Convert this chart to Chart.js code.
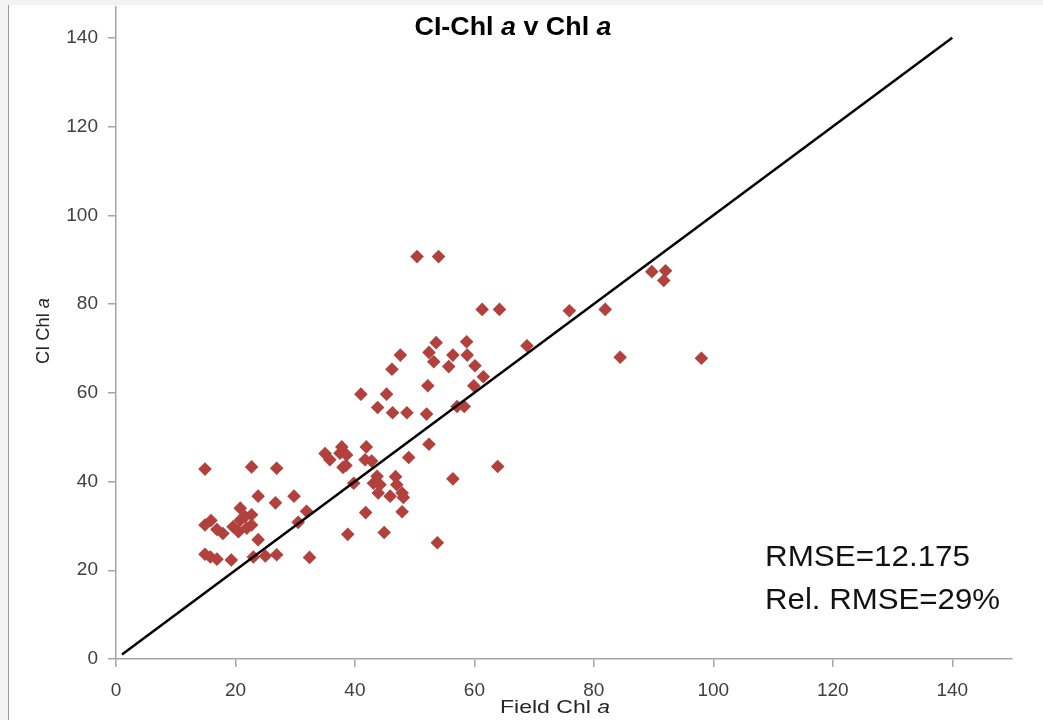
<!DOCTYPE html>
<html>
<head>
<meta charset="utf-8">
<script src="https://cdn.jsdelivr.net/npm/chart.js@4/dist/chart.umd.min.js"></script>
<style>
  html, body { margin: 0; padding: 0; background: #f3f3f3; }
  #frame { position: absolute; left: 8px; top: 5px; width: 1035px; height: 715px;
           background: #ffffff; border-left: 1px solid #9a9a9a; box-sizing: border-box; }
  #wrap { position: absolute; left: 0; top: 0; width: 1043px; height: 720px; }
</style>
</head>
<body>
<div id="frame"></div>
<div id="wrap"><canvas id="c" width="1043" height="720"></canvas></div>
<script>
// Field-measured chlorophyll a (x) against CI-derived chlorophyll a (y)
const fieldChl = [
  14.9, 14.9, 15.9, 16.9, 17.9, 14.9, 15.8, 16.9, 19.3, 19.6,
  20.8, 21.6, 22.7, 20.5, 21.9, 22.7, 20.8, 22.7, 23.8, 23.8,
  23.0, 25.0, 26.9, 26.7, 26.9, 29.8, 30.5, 31.9, 32.4, 35.0,
  35.8, 37.8, 37.5, 38.6, 38.0, 38.5, 38.8, 39.8, 41.0, 41.9,
  41.7, 42.8, 41.8, 43.8, 43.7, 43.1, 44.2, 43.9, 44.9, 45.3,
  46.2, 46.3, 46.8, 47.0, 45.9, 47.9, 48.1, 47.6, 48.7, 49.0,
  47.9, 50.4, 54.0, 52.4, 53.6, 53.2, 52.2, 52.0, 52.4, 53.8,
  55.7, 56.4, 56.4, 57.1, 58.3, 58.7, 58.8, 60.1, 59.9, 61.5,
  61.3, 64.2, 63.9, 68.8, 75.9, 81.9, 84.4, 89.7, 92.0, 91.7,
  98.0
];
const ciChl = [
  42.8, 30.2, 31.2, 29.2, 28.3, 23.6, 23.0, 22.5, 22.3, 29.8,
  31.3, 32.1, 32.5, 28.7, 29.5, 30.2, 34.0, 43.3, 36.7, 26.9,
  23.0, 23.2, 43.0, 35.2, 23.5, 36.7, 30.8, 33.3, 22.9, 46.3,
  44.9, 47.8, 46.4, 46.0, 43.2, 43.6, 28.1, 39.6, 59.7, 47.8,
  44.9, 44.6, 33.0, 56.7, 41.2, 39.6, 39.3, 37.4, 28.5, 59.7,
  65.3, 55.5, 41.1, 39.3, 36.7, 37.4, 36.4, 68.5, 55.5, 45.4,
  33.2, 90.7, 90.7, 69.1, 71.3, 67.0, 61.6, 55.2, 48.4, 26.2,
  65.9, 68.5, 40.6, 56.9, 56.9, 71.5, 68.5, 66.1, 61.6, 63.6,
  78.8, 78.8, 43.4, 70.6, 78.5, 78.8, 68.0, 87.3, 87.5, 85.3,
  67.8
];
// 1:1 reference line end points
const oneToOneX = [1, 140];
const oneToOneY = [1, 140];
// Axis ranges and tick spacing
const xRange = [0, 150];
const yRange = [0, 147];
const tickStep = 20;
// Statistics shown on the plot
const statLines = ['RMSE=12.175', 'Rel. RMSE=29%'];

const points = fieldChl.map((x, i) => ({ x: x, y: ciChl[i] }));
const linePts = oneToOneX.map((x, i) => ({ x: x, y: oneToOneY[i] }));

const TICK_FONT = '"Liberation Sans Narrow", "Liberation Sans", Arial, sans-serif';
const LABEL_FONT = '"Liberation Sans", Arial, sans-serif';

// Draws a run of styled segments, squeezed horizontally to a given width
function drawRich(ctx, segs, x, y, width, align) {
  ctx.save();
  let natural = 0;
  segs.forEach(s => { ctx.font = s.font; natural += ctx.measureText(s.text).width; });
  const sx = width / natural;
  const left = align === 'center' ? x - width / 2 : x;
  ctx.translate(left, y);
  ctx.scale(sx, 1);
  ctx.textBaseline = 'alphabetic';
  ctx.textAlign = 'left';
  let cx = 0;
  segs.forEach(s => {
    ctx.font = s.font;
    ctx.fillStyle = s.color || '#000';
    ctx.fillText(s.text, cx, 0);
    cx += ctx.measureText(s.text).width;
  });
  ctx.restore();
}

const textPlugin = {
  id: 'chartTexts',
  afterDraw(chart) {
    const ctx = chart.ctx;
    // title
    const tb = 'bold 26px ' + LABEL_FONT;
    const tbi = 'italic bold 26px ' + LABEL_FONT;
    drawRich(ctx, [
      { text: 'CI-Chl ', font: tb }, { text: 'a', font: tbi },
      { text: ' v Chl ', font: tb }, { text: 'a', font: tbi }
    ], 513, 35, 197, 'center');
    // x axis title
    const ar = '19px ' + LABEL_FONT;
    const ai = 'italic 19px ' + LABEL_FONT;
    drawRich(ctx, [
      { text: 'Field Chl ', font: ar, color: '#262626' }, { text: 'a', font: ai, color: '#262626' }
    ], 555, 713, 110, 'center');
    // y axis title
    ctx.save();
    ctx.translate(49, 331);
    ctx.rotate(-Math.PI / 2);
    drawRich(ctx, [
      { text: 'CI Chl ', font: ar, color: '#262626' }, { text: 'a', font: ai, color: '#262626' }
    ], 0, 0, 66, 'center');
    ctx.restore();
    // statistics
    const sf = '30px ' + LABEL_FONT;
    drawRich(ctx, [{ text: statLines[0], font: sf, color: '#111' }], 765, 566, 205, 'left');
    drawRich(ctx, [{ text: statLines[1], font: sf, color: '#111' }], 765, 609, 235, 'left');
  }
};

const axisGrey = '#a6a6a6';

new Chart(document.getElementById('c'), {
  type: 'scatter',
  data: {
    datasets: [
      {
        label: '1:1',
        type: 'line',
        data: linePts,
        borderColor: '#000000',
        borderWidth: 2.5,
        pointRadius: 0,
        fill: false,
        order: 0
      },
      {
        label: 'CI Chl a',
        data: points,
        pointStyle: 'rectRot',
        pointRadius: 6.8,
        pointHoverRadius: 6.8,
        backgroundColor: '#b2403c',
        borderColor: '#b2403c',
        borderWidth: 0,
        order: 1
      }
    ]
  },
  plugins: [textPlugin],
  options: {
    responsive: false,
    animation: false,
    events: [],
    layout: { padding: { top: 6, right: 31, left: 0, bottom: 0 } },
    plugins: { legend: { display: false }, title: { display: false }, tooltip: { enabled: false } },
    scales: {
      x: {
        type: 'linear',
        min: xRange[0], max: xRange[1],
        afterFit(s) { s.height = 720 - 659; s.paddingLeft = 0; s.paddingRight = 0; },
        border: { display: true, color: axisGrey, width: 1.5 },
        grid: { display: true, drawOnChartArea: false, drawTicks: true, tickLength: 8, color: axisGrey, lineWidth: 1.5 },
        ticks: { stepSize: tickStep, includeBounds: false, autoSkip: false, maxRotation: 0, padding: 12,
                 color: '#404040', font: { family: TICK_FONT, size: 19 } }
      },
      y: {
        type: 'linear',
        min: yRange[0], max: yRange[1],
        afterFit(s) { s.width = 116; s.paddingTop = 0; s.paddingBottom = 0; },
        border: { display: true, color: axisGrey, width: 1.5 },
        grid: { display: true, drawOnChartArea: false, drawTicks: true, tickLength: 8, color: axisGrey, lineWidth: 1.5 },
        ticks: { stepSize: tickStep, includeBounds: false, padding: 10,
                 color: '#404040', font: { family: TICK_FONT, size: 19 } }
      }
    }
  }
});
</script>
</body>
</html>
